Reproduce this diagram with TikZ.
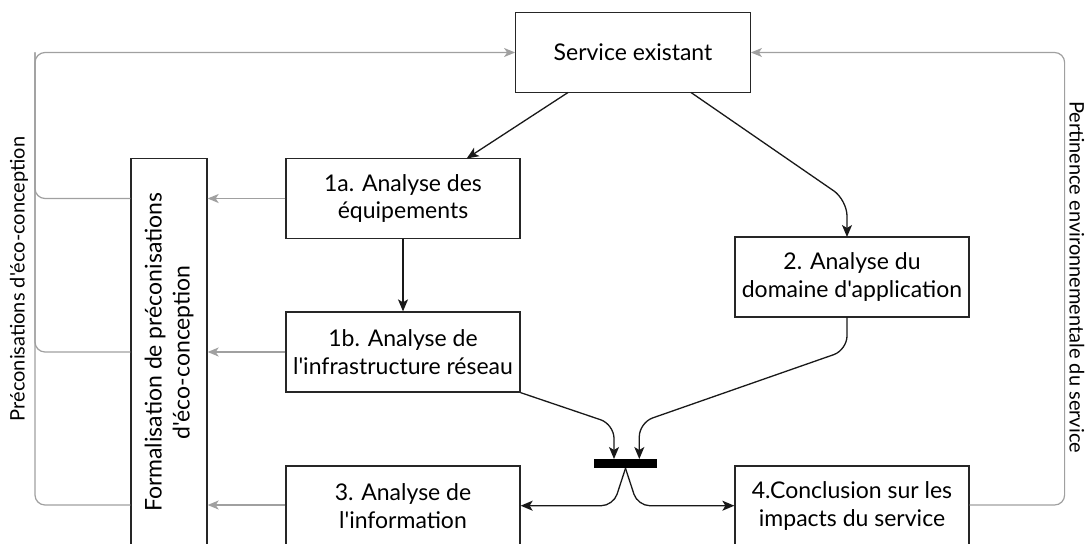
\documentclass[tikz,border=0pt]{standalone}
\usepackage{fontspec}
\newfontfamily\latof{Lato}
\usetikzlibrary{arrows.meta}
\definecolor{linegray}{RGB}{160,160,160}
\begin{document}
\begin{tikzpicture}[x=1pt,y=-1pt,
  every node/.style={font=\latof\fontsize{23}{28}\selectfont},
  box/.style={draw=black!85, line width=1.3pt, minimum width=234pt, minimum height=80pt, align=center, inner sep=0pt, fill=white},
  flow/.style={draw=black!90, line width=1.3pt, -{Stealth[length=12pt,width=10pt,inset=3pt]}},
  back/.style={draw=linegray, line width=1.2pt, -{Stealth[length=11pt,width=9pt,inset=3pt]}},
  backline/.style={draw=linegray, line width=1.2pt},
  sidetext/.style={font=\latof\fontsize{20}{24}\selectfont, inner sep=0pt}]
\useasboundingbox (0,0) rectangle (1091,543);
\clip (0,0) rectangle (1091,543);
\fill[white] (0,0) rectangle (1091,543);

% nodes
\node[box, minimum width=234.5pt] (serv) at (633,52.5) {Service existant};
\node[box] (a1) at (403,198.5) {1a. Analyse des\\équipements};
\node[box] (b1) at (403,352) {1b. Analyse de\\l'infrastructure réseau};
\node[box] (n3) at (403,506) {3. Analyse de\\l'information};
\node[box] (n2) at (852,277) {2. Analyse du\\domaine d'application};
\node[box] (n4) at (852,506) {4.Conclusion sur les\\impacts du service};
\node[box, minimum width=76pt, minimum height=387.3pt] (form) at (169,352.3) {};
\node[rotate=90, align=center, inner sep=0pt] (formtxt) at (form.center) {Formalisation de préconisations\\d'éco-conception};
\node[fill=black, minimum width=62.4pt, minimum height=9.3pt, inner sep=0pt] (bar) at (625.5,463.6) {};

% side labels
\node[sidetext, rotate=90] (lefttxt) at (19,279) {Préconisations d'éco-conception};
\node[sidetext, rotate=-90] (righttxt) at (1077,277) {Pertinence environnementale du service};

% helper coordinates
\coordinate (L) at (35,52.5);
\coordinate (R) at (1064.6,52.5);

% black flow connectors
\draw[flow] (568,92.5) -- (466.7,158.5);
\draw[flow, rounded corners=16pt] (691,92.5) -- (847,200) -- (847,237);
\draw[flow] (a1.south) -- (b1.north);
\draw[flow, rounded corners=14pt] (b1.south east) -- (614,424.3) -- (614,459);
\draw[flow, rounded corners=14pt] (847,317) -- (847,350) -- (639.3,422.6) -- (639.3,459);
\draw[flow, rounded corners=12pt] (625.5,468.3) -- (613.3,505.7) -- (n3.east |- 0,505.7);
\draw[flow, rounded corners=12pt] (625.5,468.3) -- (637.7,505.7) -- (n4.west |- 0,505.7);

% gray feedback connectors
\draw[back] (a1.west) -- (form.east |- a1.west);
\draw[back] (b1.west) -- (form.east |- b1.west);
\draw[back] (n3.west |- 0,505) -- (form.east |- 0,505);
\draw[back, rounded corners=10pt] (form.west |- a1.west) -| (L) -- (serv.west);
\draw[backline, rounded corners=10pt] (form.west |- b1.west) -| (L);
\draw[backline, rounded corners=10pt] (form.west |- 0,505) -| (L);
\draw[back, rounded corners=10pt] (n4.east |- 0,505) -| (R) -- (serv.east);
\end{tikzpicture}
\end{document}
